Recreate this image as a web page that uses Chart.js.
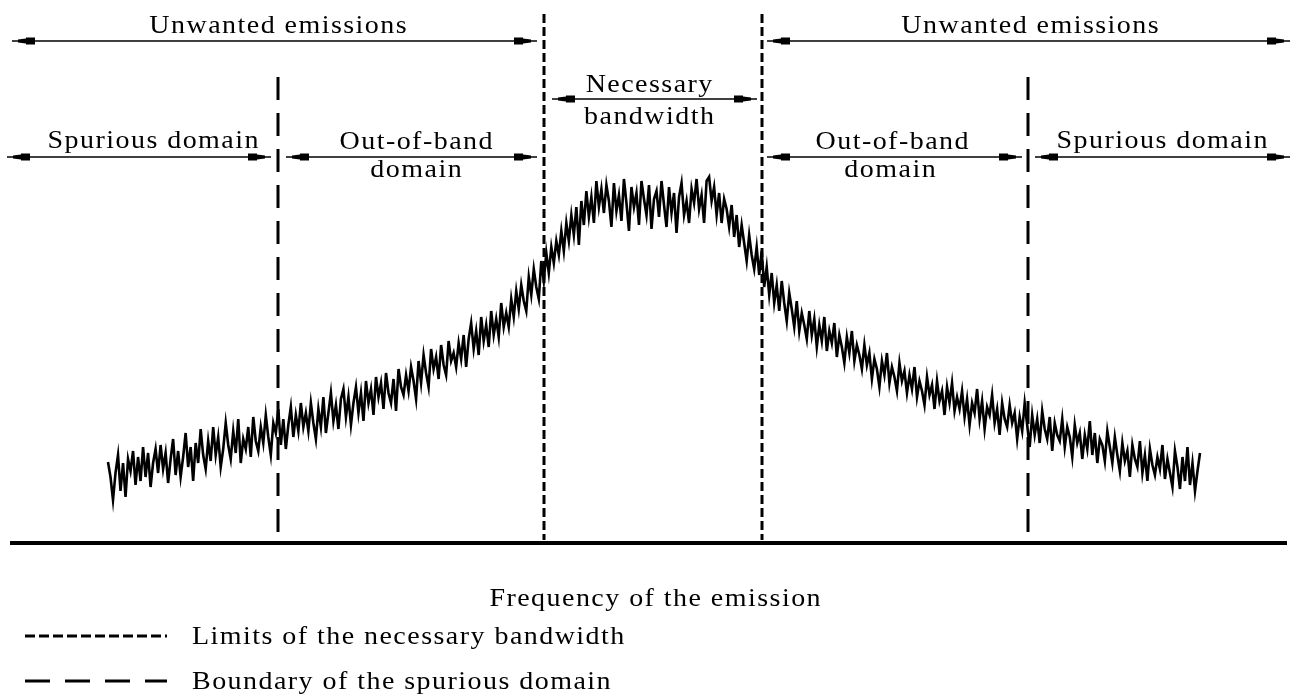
<!DOCTYPE html>
<html>
<head>
<meta charset="utf-8">
<title>Emission domains</title>
<script src="https://cdn.jsdelivr.net/npm/chart.js@4/dist/chart.umd.min.js"></script>
<style>
  html, body { margin: 0; padding: 0; background: #fff; }
  #chart { display: block; }
</style>
</head>
<body>
<canvas id="chart" width="1292" height="694"></canvas>
<script>
// spectrum trace, sampled evenly between sweepStart and sweepEnd (level above the frequency axis)
const sweepStart = 108;
const sweepEnd = 1200;
const level = [
  81, 66, 43, 70, 88, 52, 80, 46, 84, 72, 92, 58, 86, 62, 96, 66, 90, 56, 80, 94,
  70, 98, 74, 90, 60, 84, 104, 68, 92, 66, 86, 110, 76, 96, 62, 100, 80, 114, 88, 74,
  102, 82, 116, 88, 106, 76, 94, 120, 98, 84, 112, 90, 124, 80, 104, 94, 116, 86, 126, 102,
  92, 116, 100, 128, 106, 88, 120, 110, 134, 98, 124, 94, 118, 136, 106, 128, 112, 140, 116, 130,
  112, 140, 120, 104, 134, 116, 146, 110, 130, 150, 122, 138, 114, 144, 154, 126, 146, 118, 140, 156,
  130, 150, 122, 162, 140, 154, 128, 166, 146, 160, 134, 170, 150, 140, 164, 132, 174, 156, 148, 168,
  152, 176, 162, 144, 182, 160, 188, 170, 156, 194, 174, 186, 164, 198, 178, 168, 202, 182, 190, 176,
  200, 184, 208, 176, 204, 220, 194, 212, 188, 226, 202, 218, 196, 232, 208, 224, 206, 240, 216, 230,
  216, 244, 226, 252, 234, 258, 242, 232, 266, 248, 274, 256, 244, 282, 262, 290, 270, 296, 280, 302,
  288, 312, 292, 320, 302, 328, 308, 336, 298, 342, 318, 352, 326, 346, 320, 362, 336, 354, 330, 358,
  342, 316, 360, 332, 348, 322, 364, 340, 312, 356, 336, 350, 318, 362, 344, 328, 358, 314, 344, 352,
  326, 362, 338, 316, 356, 330, 350, 310, 346, 360, 328, 342, 320, 354, 340, 364, 334, 348, 320, 362,
  366, 342, 356, 328, 350, 320, 344, 334, 316, 338, 306, 328, 296, 318, 300, 282, 308, 288, 274, 296,
  268, 292, 256, 276, 248, 270, 240, 258, 232, 262, 240, 222, 250, 234, 216, 242, 212, 230, 218, 204,
  232, 208, 224, 196, 218, 202, 226, 192, 212, 200, 220, 186, 208, 196, 180, 206, 190, 212, 182, 198,
  188, 174, 198, 178, 190, 164, 184, 174, 156, 182, 168, 190, 160, 176, 166, 152, 180, 162, 172, 150,
  168, 154, 176, 146, 162, 152, 138, 166, 148, 158, 134, 162, 142, 152, 128, 156, 140, 160, 132, 146,
  134, 152, 126, 144, 118, 140, 130, 154, 124, 142, 114, 136, 128, 148, 120, 134, 108, 140, 124, 116,
  138, 120, 130, 104, 126, 112, 140, 118, 96, 128, 108, 124, 100, 132, 114, 104, 126, 92, 120, 108,
  102, 124, 96, 116, 106, 86, 118, 100, 110, 84, 108, 94, 122, 88, 110, 80, 104, 98, 82, 112,
  96, 80, 106, 88, 72, 100, 82, 92, 66, 98, 84, 76, 102, 70, 88, 62, 94, 78, 68, 86,
  74, 98, 64, 84, 70, 56, 92, 76, 54, 86, 62, 96, 58, 80, 52, 72, 90
];

// limits of the necessary bandwidth and boundaries of the spurious domain (frequency)
const bandwidthLimits = [544, 762];
const spuriousBoundaries = [278, 1028];

// labelled spans: name, frequency range, height of the arrow
const spanNames = ['Unwanted emissions', 'Unwanted emissions', 'Spurious domain', 'Out-of-band domain', 'Necessary bandwidth', 'Out-of-band domain', 'Spurious domain'];
const spanFrom = [12, 767, 7, 286, 552, 767, 1035];
const spanTo = [537, 1290, 271, 537, 757, 1022, 1290];
const spanLevel = [502, 502, 386, 386, 444, 386, 386];

const axisTitle = 'Frequency of the emission';
const legendNames = ['Limits of the necessary bandwidth', 'Boundary of the spurious domain'];

// ---- layout (pixels) ----
const font = '25px "Liberation Serif", "Times New Roman", serif';
const stretch = 1.12;  // the source lettering is set wide
const spacing = 1.3;
const textSpots = [
  // [text, centre x, baseline y]
  ['Unwanted emissions', 278, 33],
  ['Unwanted emissions', 1030, 33],
  ['Necessary', 649, 92],
  ['bandwidth', 649, 124],
  ['Spurious domain', 153, 148],
  ['Out-of-band', 416, 149],
  ['domain', 416, 177],
  ['Out-of-band', 892, 149],
  ['domain', 890, 177],
  ['Spurious domain', 1162, 148],
  [axisTitle, 655, 606],
];
const legendRows = [
  { y: 636, dash: [10, 4] },
  { y: 681, dash: [25, 15] },
];

const step = (sweepEnd - sweepStart) / (level.length - 1);
const trace = level.map((v, i) => ({ x: sweepStart + i * step, y: v }));

const black = '#000';
const datasets = [
  { data: trace, borderColor: black, borderWidth: 2.6, borderJoinStyle: 'miter', pointRadius: 0, tension: 0, clip: false },
  { data: [{ x: 10, y: 0 }, { x: 1287, y: 0 }], borderColor: black, borderWidth: 4, pointRadius: 0, clip: false },
];
bandwidthLimits.forEach((f) => {
  datasets.push({ data: [{ x: f, y: 529 }, { x: f, y: 3 }], borderColor: black, borderWidth: 3, borderDash: [9, 4], pointRadius: 0, clip: false });
});
spuriousBoundaries.forEach((f) => {
  datasets.push({ data: [{ x: f, y: 466 }, { x: f, y: 11 }], borderColor: black, borderWidth: 3, borderDash: [23, 13], pointRadius: 0, clip: false });
});
spanNames.forEach((name, i) => {
  datasets.push({
    label: name,
    isSpan: true,
    data: [{ x: spanFrom[i], y: spanLevel[i] }, { x: spanTo[i], y: spanLevel[i] }],
    borderColor: black, borderWidth: 1.5, pointRadius: 0, clip: false,
  });
});

function arrowHead(ctx, x, y, dir) {
  const s = -dir;
  ctx.beginPath();
  ctx.moveTo(x + s * 6, y - 1.5);
  ctx.lineTo(x + s * 14, y - 2.5);
  ctx.lineTo(x + s * 14, y - 3.5);
  ctx.lineTo(x + s * 23, y - 3.5);
  ctx.lineTo(x + s * 23, y + 3.5);
  ctx.lineTo(x + s * 14, y + 3.5);
  ctx.lineTo(x + s * 14, y + 2.5);
  ctx.lineTo(x + s * 6, y + 1.5);
  ctx.closePath();
  ctx.fill();
}

function wideText(ctx, text, x, y, align) {
  ctx.save();
  ctx.translate(x, y);
  ctx.scale(stretch, 1);
  ctx.textAlign = align;
  ctx.textBaseline = 'alphabetic';
  if ('letterSpacing' in ctx) ctx.letterSpacing = spacing + 'px';
  ctx.fillText(text, align === 'center' ? spacing / 2 : 0, 0);
  ctx.restore();
}

const diagramPlugin = {
  id: 'diagram',
  afterDatasetsDraw(chart) {
    const ctx = chart.ctx;
    ctx.save();
    ctx.fillStyle = black;
    chart.data.datasets.forEach((ds, i) => {
      if (!ds.isSpan) return;
      const pts = chart.getDatasetMeta(i).data;
      arrowHead(ctx, pts[0].x, pts[0].y, -1);
      arrowHead(ctx, pts[1].x, pts[1].y, 1);
    });
    ctx.font = font;
    textSpots.forEach(([t, x, y]) => wideText(ctx, t, x, y, 'center'));

    legendRows.forEach((row, i) => {
      ctx.beginPath();
      ctx.setLineDash(row.dash);
      ctx.lineWidth = 3;
      ctx.strokeStyle = black;
      ctx.moveTo(25, row.y);
      ctx.lineTo(167, row.y);
      ctx.stroke();
      ctx.setLineDash([]);
      wideText(ctx, legendNames[i], 192, row.y + 8, 'left');
    });
    ctx.restore();
  },
};

new Chart(document.getElementById('chart'), {
  type: 'line',
  data: { datasets },
  options: {
    responsive: false,
    devicePixelRatio: 1,
    animation: false,
    layout: { padding: { left: 0, right: 0, top: 0, bottom: 151 } },
    plugins: { legend: { display: false }, tooltip: { enabled: false } },
    scales: {
      x: { type: 'linear', min: 0, max: 1292, display: false },
      y: { type: 'linear', min: 0, max: 543, display: false },
    },
  },
  plugins: [diagramPlugin],
});
</script>
</body>
</html>
